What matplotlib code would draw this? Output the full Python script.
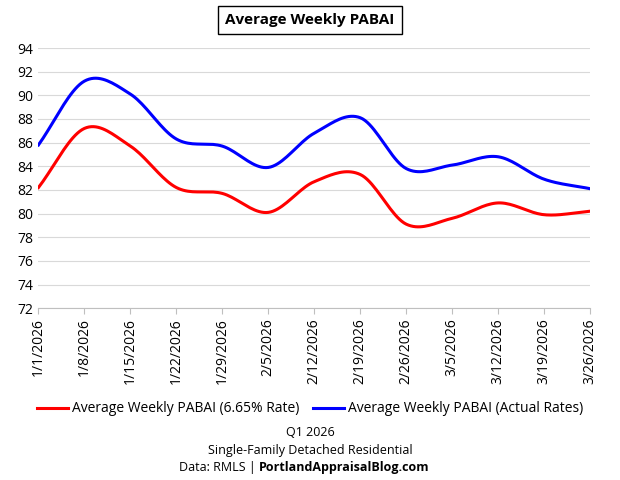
import numpy as np
import matplotlib.pyplot as plt

plt.rcParams['font.family'] = ['Open Sans', 'DejaVu Sans']

dates = ['1/1/2026', '1/8/2026', '1/15/2026', '1/22/2026', '1/29/2026', '2/5/2026', '2/12/2026',
         '2/19/2026', '2/26/2026', '3/5/2026', '3/12/2026', '3/19/2026', '3/26/2026']
fixed_rate = [82.2, 87.2, 85.7, 82.2, 81.7, 80.1, 82.7, 83.3, 79.1, 79.6, 80.9, 79.9, 80.2]
actual_rates = [85.8, 91.2, 90.1, 86.3, 85.7, 83.9, 86.8, 88.1, 83.8, 84.1, 84.8, 82.9, 82.1]


def smooth(y, n=20):
    """Catmull-Rom curve through the points, like Excel's smoothed line."""
    y = np.asarray(y, float)
    p = np.concatenate([[2 * y[0] - y[1]], y, [2 * y[-1] - y[-2]]])
    xs, ys = [], []
    for i in range(len(y) - 1):
        t = np.linspace(0, 1, n, endpoint=False)
        p0, p1, p2, p3 = p[i], p[i + 1], p[i + 2], p[i + 3]
        ys.append(0.5 * (2 * p1 + (-p0 + p2) * t + (2 * p0 - 5 * p1 + 4 * p2 - p3) * t ** 2
                         + (-p0 + 3 * p1 - 3 * p2 + p3) * t ** 3))
        xs.append(i + t)
    return np.append(np.concatenate(xs), len(y) - 1), np.append(np.concatenate(ys), y[-1])


fig = plt.figure(figsize=(6.2, 4.8), dpi=100)
ax = fig.add_axes([0.062, 0.358, 0.890, 0.542])

x, y = smooth(fixed_rate)
ax.plot(x, y, color='#ff0000', lw=2.2, label='Average Weekly PABAI (6.65% Rate)')
x, y = smooth(actual_rates)
ax.plot(x, y, color='#0000ff', lw=2.2, label='Average Weekly PABAI (Actual Rates)')

ax.set_xlim(0, len(dates) - 1)
ax.set_ylim(72, 94)
ax.set_yticks(range(72, 95, 2))
ax.set_xticks(range(len(dates)))
ax.set_xticklabels(dates, rotation=90, fontsize=10)
ax.tick_params(axis='y', labelsize=10, length=0)
ax.tick_params(axis='x', length=4, color='#bfbfbf')
ax.grid(axis='y', color='#d9d9d9', lw=0.8)
for s in ['top', 'right']:
    ax.spines[s].set_visible(False)
ax.spines['left'].set_visible(False)
ax.spines['bottom'].set_color('#bfbfbf')

fig.text(0.5, 0.958, 'Average Weekly PABAI', ha='center', va='center', fontsize=11, fontweight='bold',
         bbox=dict(facecolor='white', edgecolor='black', lw=1, pad=5))
fig.legend(loc='center', bbox_to_anchor=(0.5, 0.148), ncol=2, frameon=False, fontsize=10,
           handlelength=2.2, columnspacing=1.0, handletextpad=0.3)
fig.text(0.5, 0.098, 'Q1 2026', ha='center', va='center', fontsize=9)
fig.text(0.5, 0.062, 'Single-Family Detached Residential', ha='center', va='center', fontsize=9)
fig.text(0.418, 0.025, 'Data: RMLS | ', ha='right', va='center', fontsize=9)
fig.text(0.418, 0.025, 'PortlandAppraisalBlog.com', ha='left', va='center', fontsize=9, fontweight='bold')

fig.savefig('out.png', dpi=100)
